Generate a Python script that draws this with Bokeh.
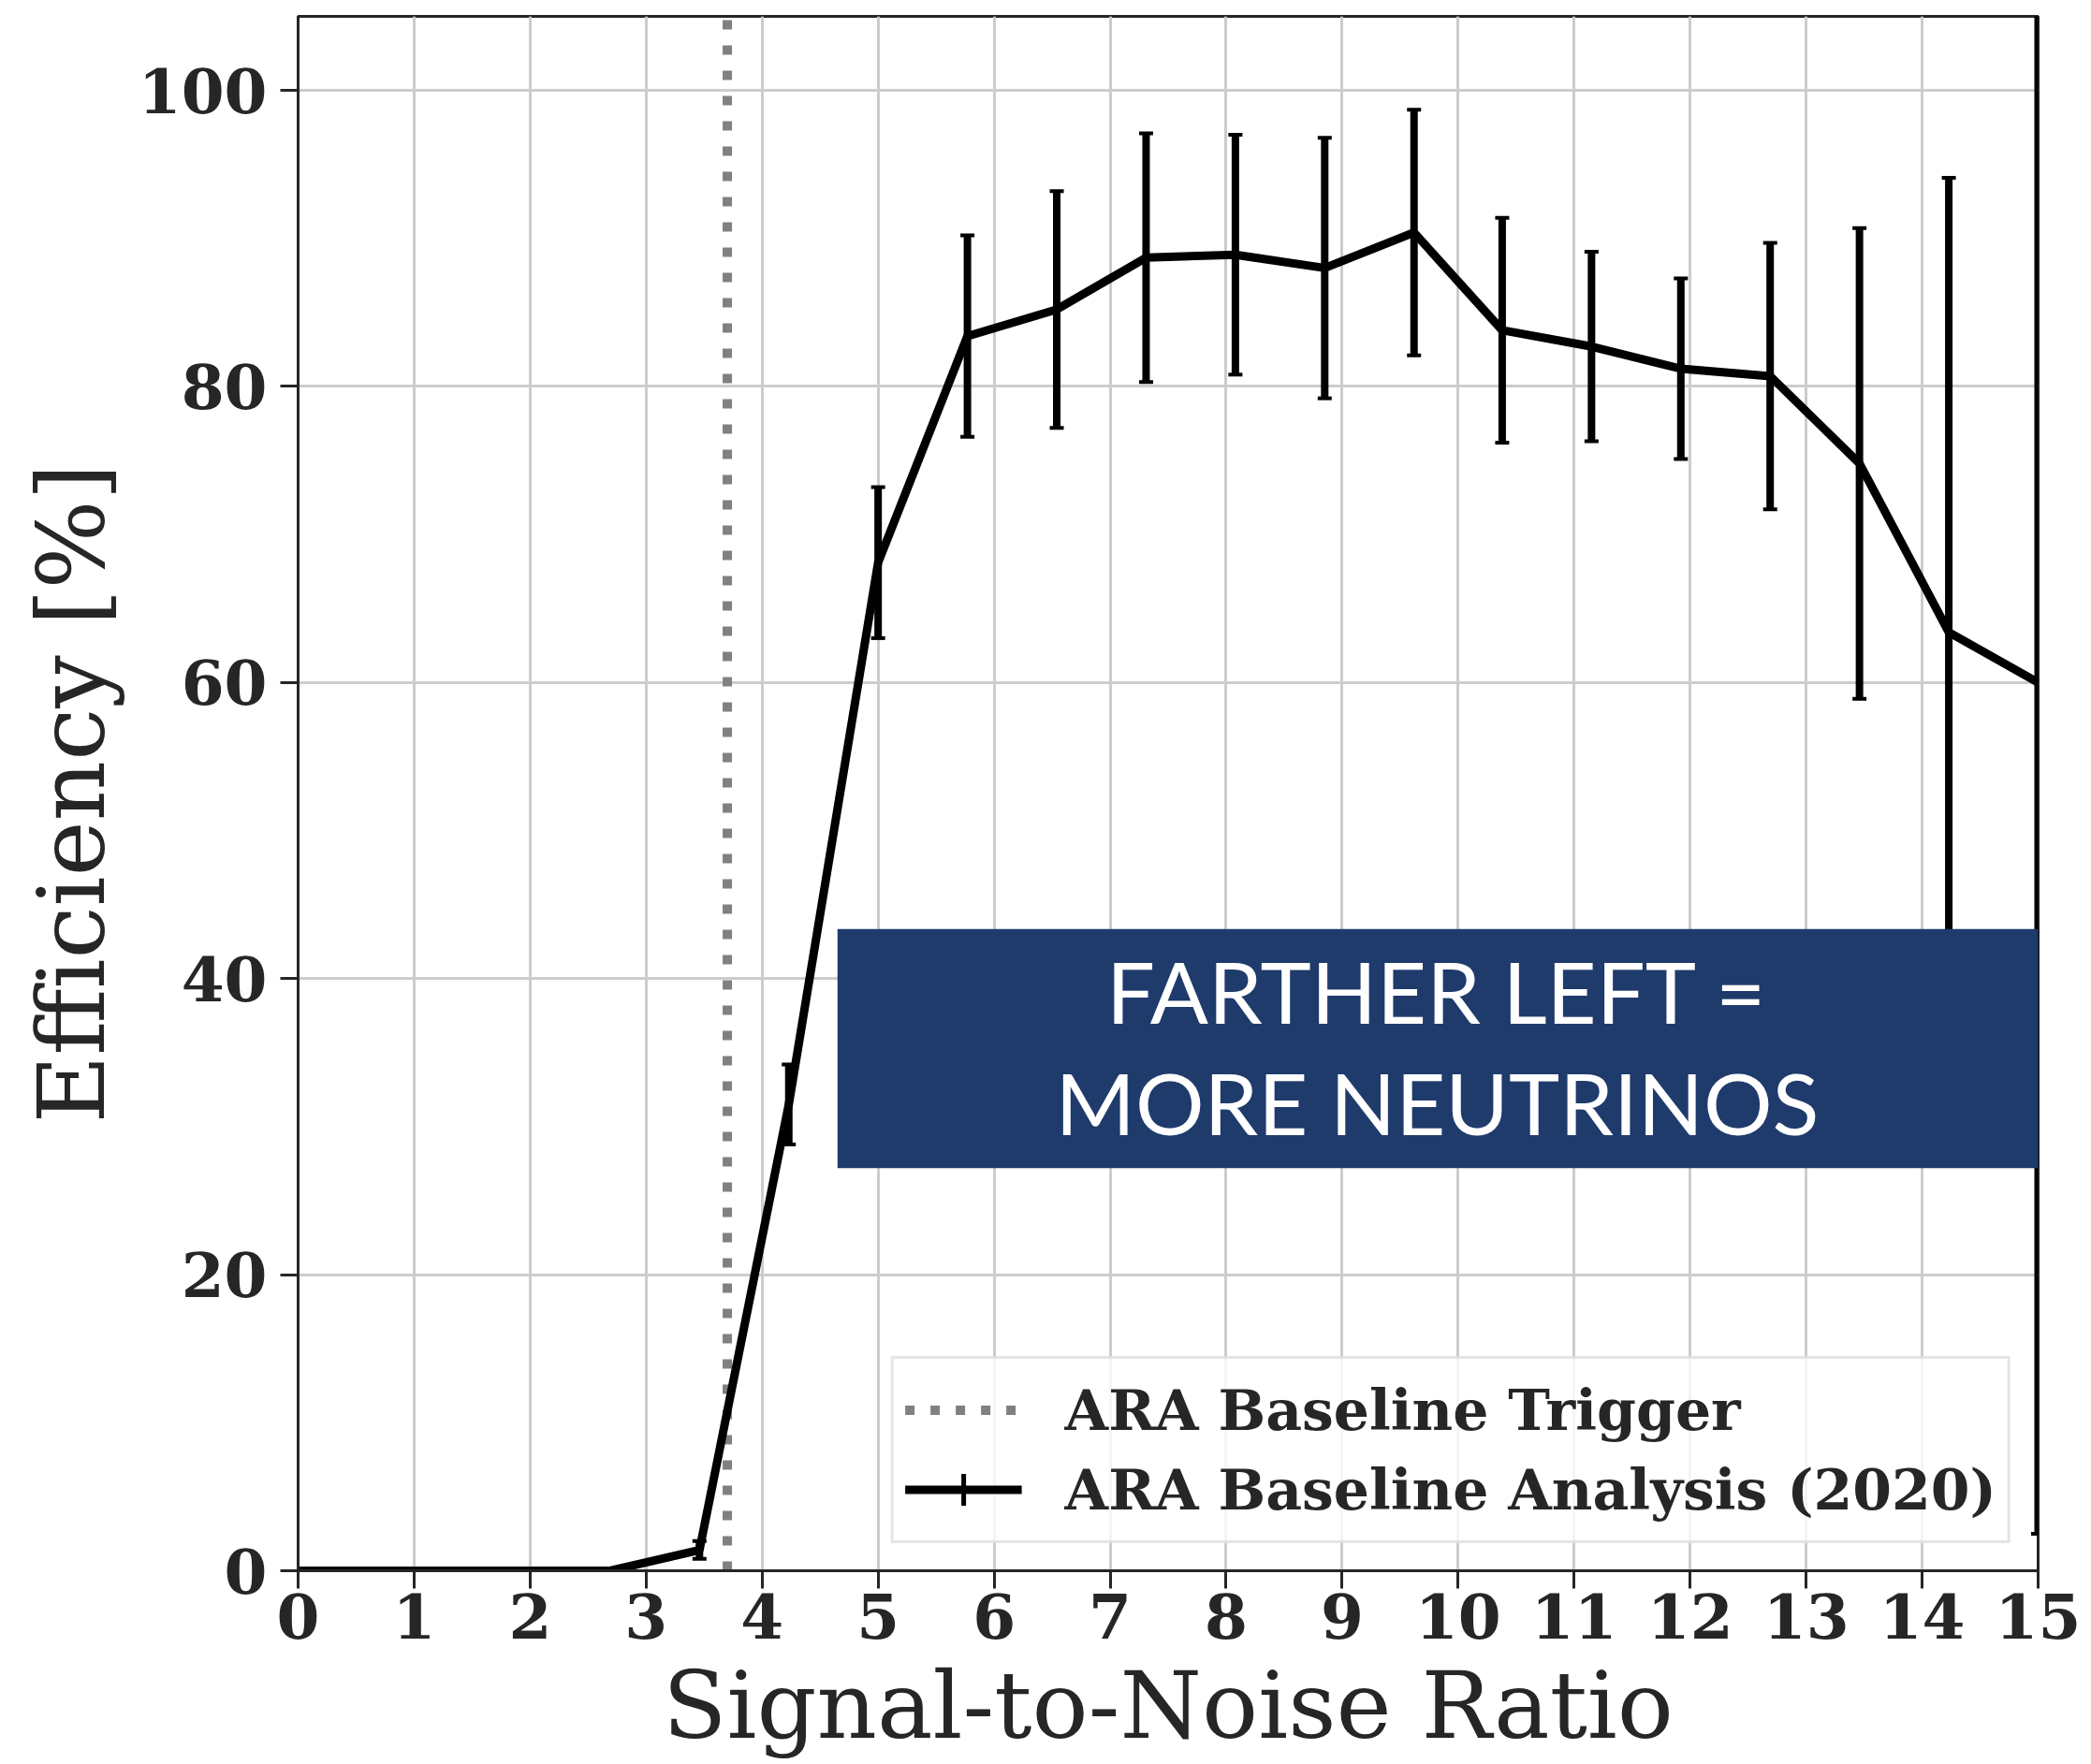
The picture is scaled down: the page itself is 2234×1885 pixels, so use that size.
from bokeh.plotting import figure
from bokeh.models import (Range1d, FixedTicker, BoxAnnotation, Label, Legend,
                          LegendItem, ColumnDataSource)
from bokeh.embed import file_html
from bokeh.resources import INLINE

# ---- data ----
snr = [-0.38, 0.38, 1.15, 1.92, 2.69, 3.46, 4.23, 5.00, 5.77, 6.54, 7.31,
       8.08, 8.85, 9.62, 10.38, 11.15, 11.92, 12.69, 13.46, 14.23, 15.00]
efficiency = [0.0, 0.0, 0.0, 0.0, 0.0, 1.4, 31.5, 68.1, 83.4, 85.2, 88.7,
              88.9, 88.0, 90.4, 83.8, 82.7, 81.2, 80.7, 74.8, 63.4, 60.0]
eff_err = [0.0, 0.0, 0.0, 0.0, 0.0, 0.6, 2.7, 5.1, 6.8, 8.0, 8.4,
           8.1, 8.8, 8.3, 7.6, 6.4, 6.1, 9.0, 15.9, 30.7, 57.5]
trigger_snr = 3.7

x_ticks = list(range(0, 16))
y_ticks = [0, 20, 40, 60, 80, 100]
X_MIN, X_MAX = 0, 15
Y_MIN, Y_MAX = 0, 105

legend_labels = ["ARA Baseline Trigger", "ARA Baseline Analysis (2020)"]
banner_lines = ["FARTHER LEFT =", "MORE NEUTRINOS"]
x_label = "Signal-to-Noise Ratio"
y_label = "Efficiency [%]"

# banner geometry (data units)
BANNER_LEFT, BANNER_RIGHT = 4.65, 15.0
BANNER_BOTTOM, BANNER_TOP = 27.2, 43.35
BANNER_TEXT_X = 9.82
BANNER_LINE_Y = [39.2, 31.7]

TEXT = "#262626"
SERIF = "DejaVu Serif"

p = figure(width=2226, height=1885, output_backend="svg", toolbar_location=None,
           x_range=Range1d(X_MIN, X_MAX), y_range=Range1d(Y_MIN, Y_MAX),
           min_border_left=318, min_border_right=49, min_border_top=17,
           min_border_bottom=207, background_fill_color="white",
           border_fill_color="white")

p.outline_line_color = TEXT
p.outline_line_width = 3

# grid
p.xgrid.ticker = FixedTicker(ticks=x_ticks)
p.ygrid.ticker = FixedTicker(ticks=y_ticks)
for g in (p.xgrid, p.ygrid):
    g.grid_line_color = "#cccccc"
    g.grid_line_width = 3

# axes
p.xaxis.ticker = FixedTicker(ticks=x_ticks)
p.yaxis.ticker = FixedTicker(ticks=y_ticks)
for ax in (p.xaxis, p.yaxis):
    ax.axis_line_color = TEXT
    ax.axis_line_width = 3
    ax.major_tick_line_color = TEXT
    ax.major_tick_line_width = 3
    ax.major_tick_out = 19
    ax.major_tick_in = 0
    ax.minor_tick_line_color = None
    ax.major_label_text_font = SERIF
    ax.major_label_text_font_style = "bold"
    ax.major_label_text_font_size = "66px"
    ax.major_label_text_color = TEXT
    ax.axis_label_text_font = SERIF
    ax.axis_label_text_font_style = "normal"
    ax.axis_label_text_font_size = "100px"
    ax.axis_label_text_color = TEXT
p.xaxis.axis_label = x_label
p.yaxis.axis_label = y_label
p.xaxis.major_label_standoff = 5
p.yaxis.major_label_standoff = 14
p.xaxis.axis_label_standoff = 10
p.yaxis.axis_label_standoff = 10

# trigger line
trig_r = p.line(x=[trigger_snr, trigger_snr], y=[Y_MIN, Y_MAX],
                line_color="#808080", line_width=10, line_dash="10 17")

# error bars (only where there is an error)
idx = [i for i, e in enumerate(eff_err) if e > 0]
err_src = ColumnDataSource(dict(
    x=[snr[i] for i in idx],
    y=[efficiency[i] for i in idx],
    lo=[efficiency[i] - eff_err[i] for i in idx],
    hi=[efficiency[i] + eff_err[i] for i in idx],
))
p.segment(x0="x", y0="lo", x1="x", y1="hi", source=err_src,
          line_color="black", line_width=8)
p.scatter(x="x", y="lo", source=err_src, marker="dash", size=15,
          line_color="black", line_width=4)
p.scatter(x="x", y="hi", source=err_src, marker="dash", size=15,
          line_color="black", line_width=4)

# main curve
main_r = p.line(x=snr, y=efficiency, line_color="black", line_width=9,
                line_join="round")
# legend helper for the error-bar symbol (zero size on the plot itself)
cross_r = p.scatter(x="x", y="y", source=err_src, marker="cross", size=0,
                    line_color="black", line_width=5)

legend = Legend(items=[
    LegendItem(label=legend_labels[0], renderers=[trig_r]),
    LegendItem(label=legend_labels[1], renderers=[main_r, cross_r]),
], location="bottom_right")
legend.margin = 29
legend.padding = 12
legend.spacing = 0
legend.glyph_width = 125
legend.glyph_height = 85
legend.label_standoff = 46
legend.label_text_font = SERIF
legend.label_text_font_style = "bold"
legend.label_text_font_size = "60px"
legend.label_text_color = TEXT
legend.border_line_color = "#cccccc"
legend.border_line_width = 3
legend.background_fill_color = "white"
legend.background_fill_alpha = 0.8
p.add_layout(legend)

# banner
p.add_layout(BoxAnnotation(left=BANNER_LEFT, right=BANNER_RIGHT,
                           bottom=BANNER_BOTTOM, top=BANNER_TOP,
                           fill_color="#1f3b6c", fill_alpha=1.0,
                           line_color=None))
for txt, yy in zip(banner_lines, BANNER_LINE_Y):
    p.add_layout(Label(x=BANNER_TEXT_X, y=yy, text=txt, text_align="center",
                       text_baseline="alphabetic", text_font="Lato",
                       text_font_size="92px", text_color="white"))

open("out.html", "w").write(file_html(p, INLINE))
